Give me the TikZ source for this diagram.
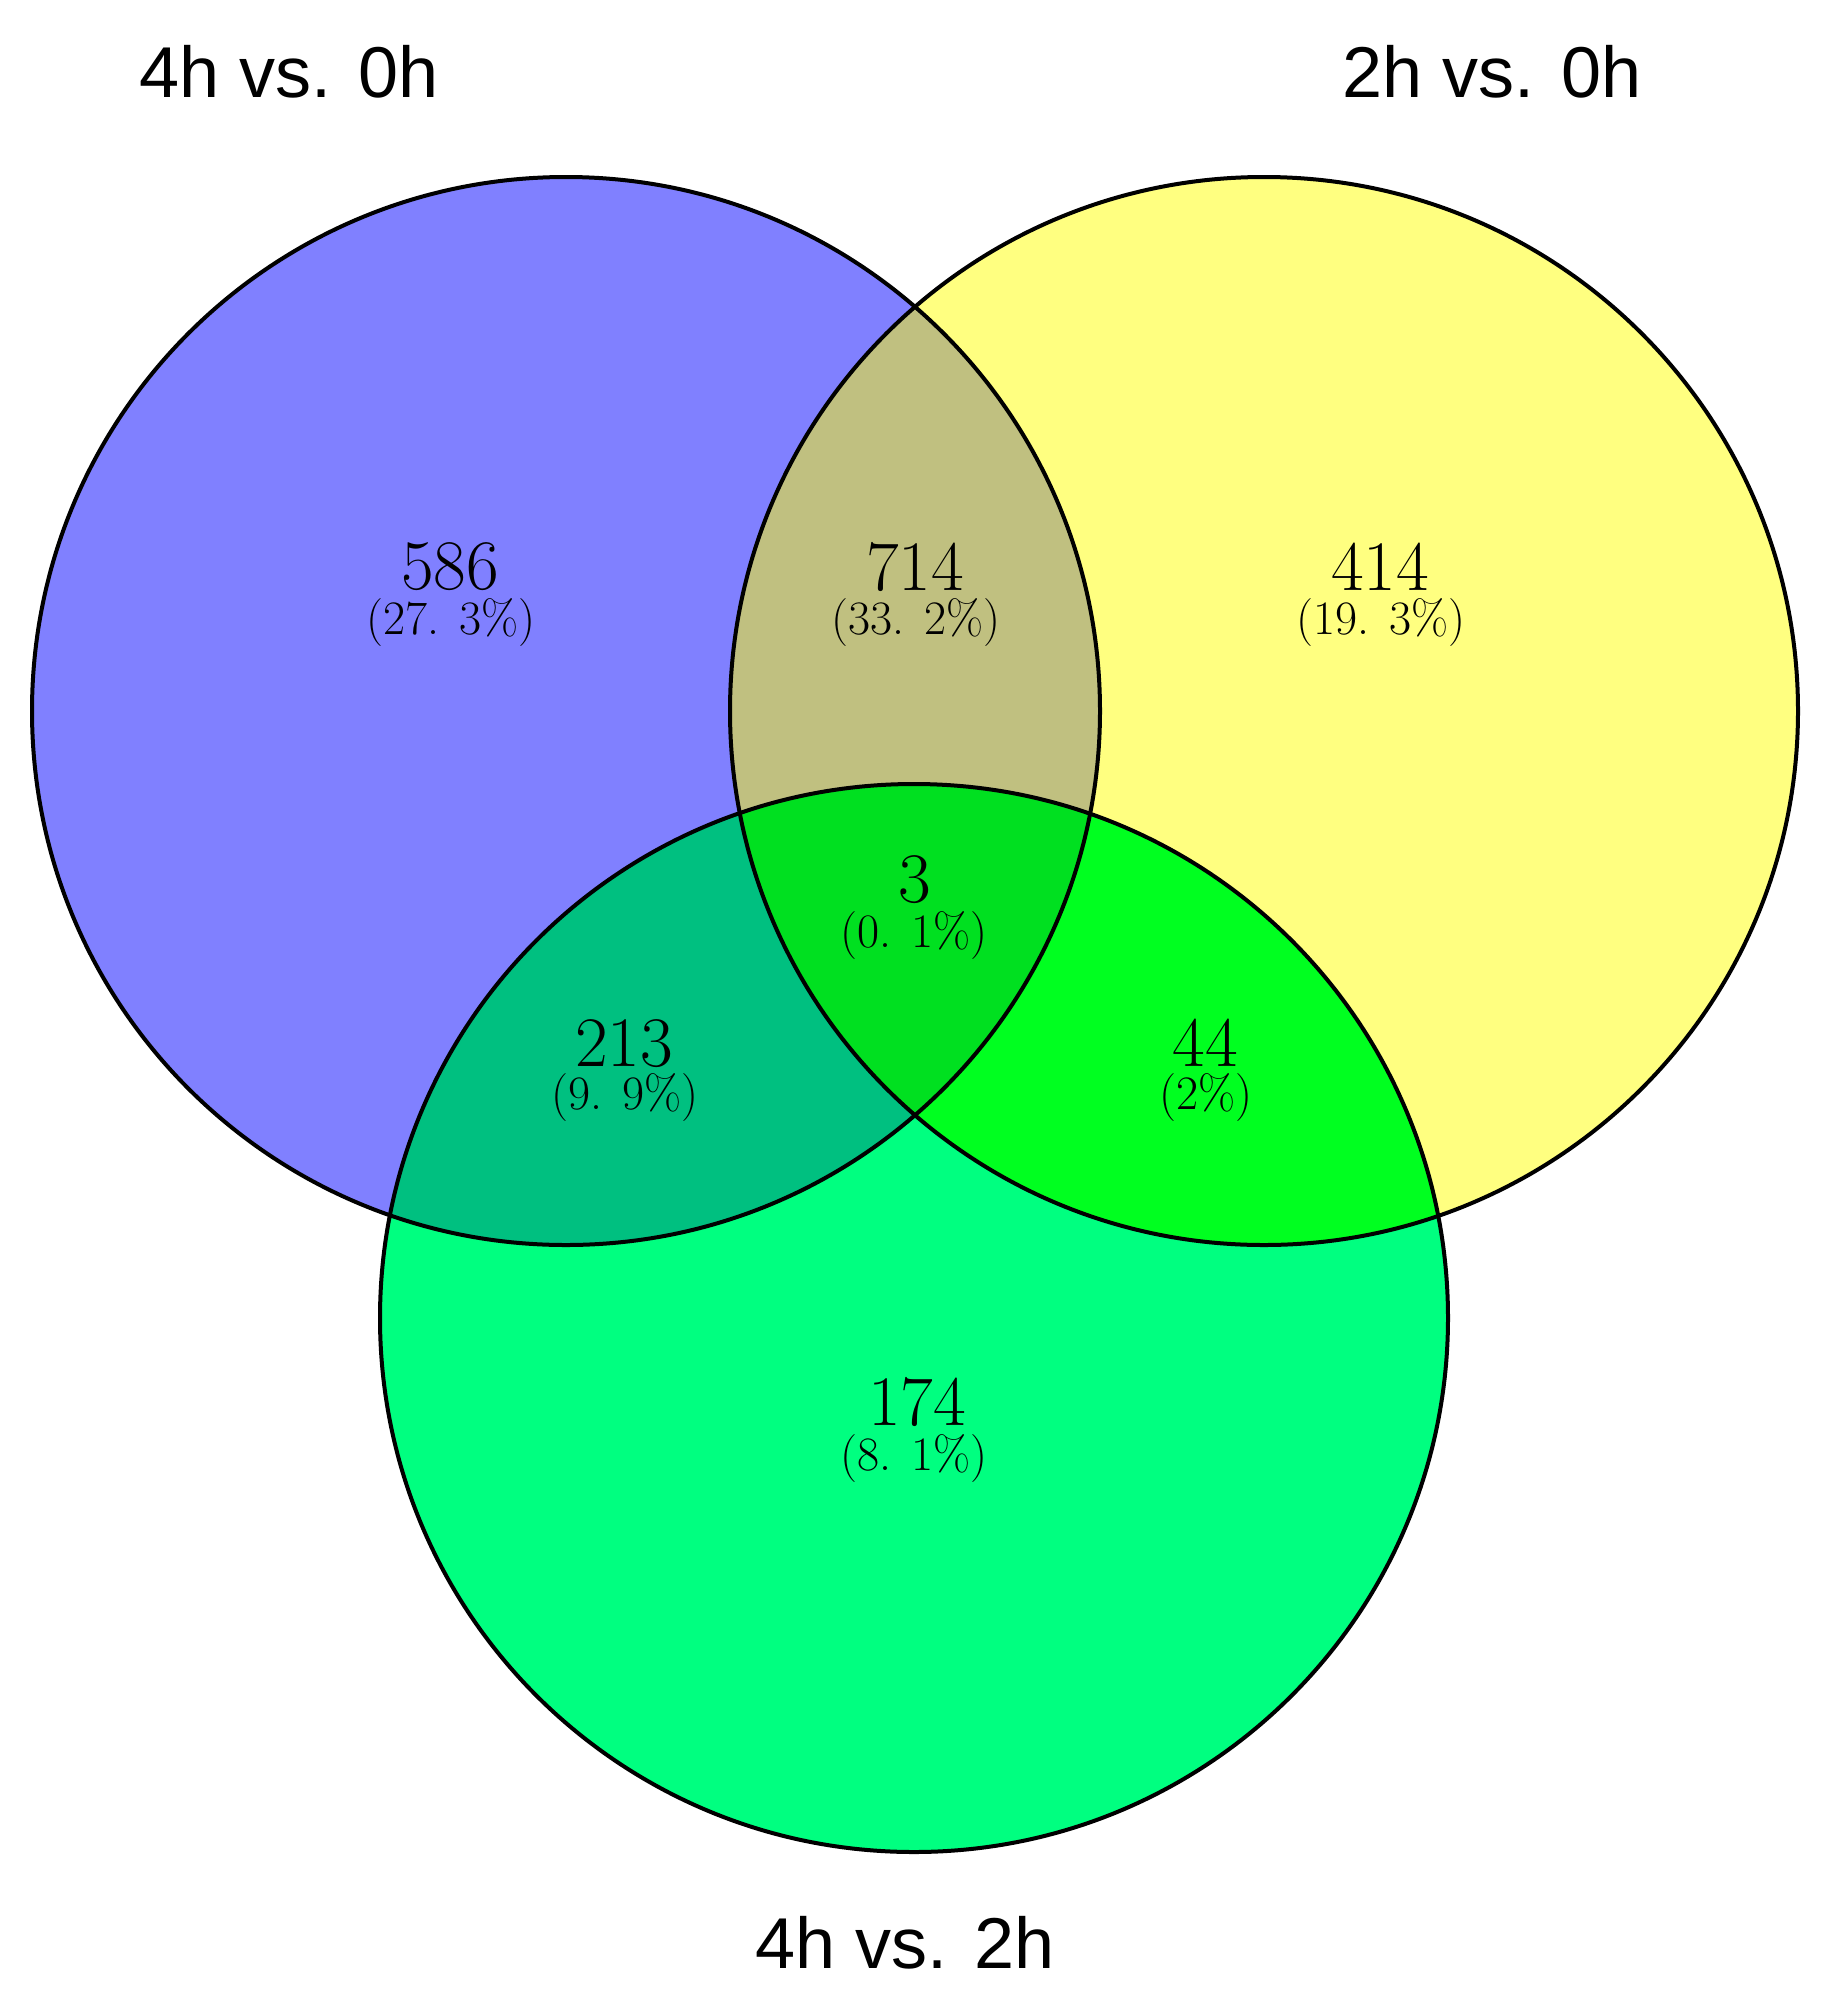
\documentclass[tikz,border=0pt]{standalone}
\usepackage{fontspec}
\newfontfamily\labfont{Liberation Sans}
\definecolor{cblue}{RGB}{128,128,255}
\definecolor{cyel}{RGB}{255,255,128}
\definecolor{cgrn}{RGB}{0,255,128}
\definecolor{cby}{RGB}{192,192,128}
\definecolor{cbg}{RGB}{0,192,128}
\definecolor{cyg}{RGB}{0,255,32}
\definecolor{call}{RGB}{0,224,32}
\begin{document}
\begin{tikzpicture}[x=1pt,y=-1pt,
  outline/.style={draw=black,line width=4pt},
  num/.style={font=\fontsize{71}{71}\selectfont,inner sep=0pt},
  pct/.style={font=\fontsize{48}{48}\selectfont,inner sep=0pt},
  lab/.style={font=\labfont\fontsize{72}{72}\selectfont,inner sep=0pt}]
\useasboundingbox (0,0) rectangle (1822,2008);
\fill[white] (0,0) rectangle (1822,2008);
\coordinate (B) at (566,711);
\coordinate (Y) at (1264,711);
\coordinate (G) at (914,1318);
\fill[cblue] (B) circle[radius=534pt];
\fill[cyel] (Y) circle[radius=534pt];
\fill[cgrn] (G) circle[radius=534pt];
\begin{scope}
  \clip (B) circle[radius=534pt];
  \fill[cby] (Y) circle[radius=534pt];
  \fill[cbg] (G) circle[radius=534pt];
\end{scope}
\begin{scope}
  \clip (Y) circle[radius=534pt];
  \fill[cyg] (G) circle[radius=534pt];
\end{scope}
\begin{scope}
  \clip (B) circle[radius=534pt];
  \clip (Y) circle[radius=534pt];
  \fill[call] (G) circle[radius=534pt];
\end{scope}
\draw[outline] (B) circle[radius=534pt];
\draw[outline] (Y) circle[radius=534pt];
\draw[outline] (G) circle[radius=534pt];
% labels
\node[lab] (lb) at (289,72) {4h vs. 0h};
\node[lab] (ly) at (1492,72) {2h vs. 0h};
\node[lab] (lg) at (905,1943) {4h vs. 2h};
% counts
\node[num] (n1) at (450,567) {586};
\node[pct] (p1) at (451,623) {(27. 3\%)};
\node[num] (n2) at (915,567) {714};
\node[pct] (p2) at (916,623) {(33. 2\%)};
\node[num] (n3) at (1380,567) {414};
\node[pct] (p3) at (1381,623) {(19. 3\%)};
\node[num] (n4) at (915,880) {3};
\node[pct] (p4) at (914,936) {(0. 1\%)};
\node[num] (n5) at (624,1044) {213};
\node[pct] (p5) at (625,1098) {(9. 9\%)};
\node[num] (n6) at (1205,1043) {44};
\node[pct] (p6) at (1206,1098) {(2\%)};
\node[num] (n7) at (917,1402) {174};
\node[pct] (p7) at (914,1459) {(8. 1\%)};
\end{tikzpicture}
\end{document}
